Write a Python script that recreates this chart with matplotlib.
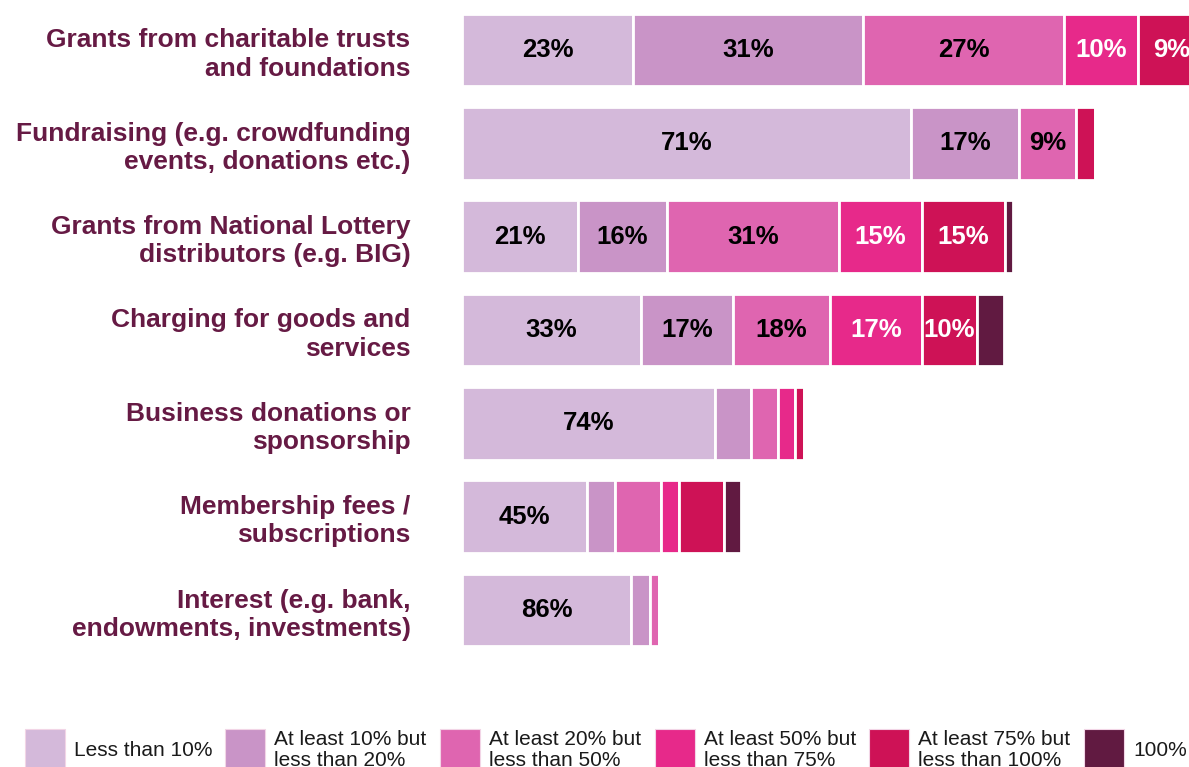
import numpy as np
import matplotlib.pyplot as plt
from matplotlib.patches import Rectangle

plt.rcParams['font.family'] = ['Liberation Sans', 'DejaVu Sans']

sources = ["Grants from charitable trusts\nand foundations",
           "Fundraising (e.g. crowdfunding\nevents, donations etc.)",
           "Grants from National Lottery\ndistributors (e.g. BIG)",
           "Charging for goods and\nservices",
           "Business donations or\nsponsorship",
           "Membership fees /\nsubscriptions",
           "Interest (e.g. bank,\nendowments, investments)"]

bands = ["Less than 10%",
         "At least 10% but\nless than 20%",
         "At least 20% but\nless than 50%",
         "At least 50% but\nless than 75%",
         "At least 75% but\nless than 100%",
         "100%"]

# length of each bar (relative number of organisations using the source)
row_size = [80.0, 68.1, 59.6, 58.3, 36.8, 30.0, 21.2]

# share of income from each source, % of organisations in each band
less10 = [23, 71, 21, 33, 74, 45, 86]
b10_20 = [31, 17, 16, 17, 10.5, 10, 9.5]
b20_50 = [27, 9, 31, 18, 8, 16.5, 4.5]
b50_75 = [10, 0, 15, 17, 5, 6.5, 0]
b75_100 = [9, 3, 15, 10, 2.5, 16, 0]
full = [0, 0, 1.5, 5, 0, 6, 0]

colors = ["#D4B9DA", "#C994C7", "#DF65B0", "#E7298A", "#CE1256", "#611A41"]
text_colors = ["black", "black", "black", "white", "white", "white"]
label_col = "#661A44"

W, H = 1189, 767
fig = plt.figure(figsize=(W / 100, H / 100), dpi=100)
ax = fig.add_axes([462 / W, 1 - 656.7 / H, 727 / W, 653.4 / H])

series = [less10, b10_20, b20_50, b50_75, b75_100, full]
y = np.arange(len(sources))
scale = np.array(row_size) / 100.0
left = np.zeros(len(sources))
for k, vals in enumerate(series):
    w = np.array(vals) * scale
    ax.barh(y, w, left=left, height=0.78, color=colors[k],
            edgecolor="white", linewidth=2)
    for i in range(len(sources)):
        if w[i] >= 5.5:
            ax.text(left[i] + w[i] / 2, y[i], f"{vals[i]:g}%", ha="center",
                    va="center", fontsize=18.5, fontweight="bold",
                    color=text_colors[k])
    left = left + w

ax.set_xlim(0, 727 / 9.29)
ax.set_ylim(6.5, -0.5)
ax.set_yticks(y)
ax.set_yticklabels(sources, fontsize=19, fontweight="bold", color=label_col,
                   linespacing=1.22)
ax.tick_params(axis="y", length=0, pad=37)
ax.set_xticks([])
for s in ax.spines.values():
    s.set_visible(False)

# legend along the bottom
leg_x = [25, 225, 440, 655, 869, 1084]
for k, lab in enumerate(bands):
    x0 = leg_x[k]
    fig.add_artist(Rectangle((x0 / W, 1 - 769 / H), 40 / W, 40 / H,
                             transform=fig.transFigure, facecolor=colors[k],
                             edgecolor="#F2D5E6", linewidth=0.8))
    fig.text((x0 + 49) / W, 1 - 750 / H, lab, ha="left", va="center",
             fontsize=15, color="#1A1A1A", linespacing=1.15)

fig.savefig("out.png", dpi=100)
